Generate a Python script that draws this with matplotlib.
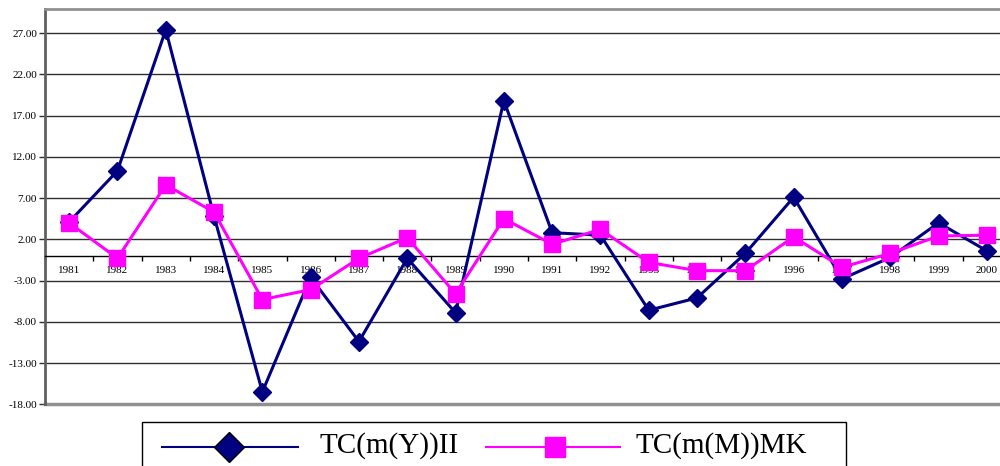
import matplotlib
matplotlib.use("Agg")
import matplotlib.pyplot as plt
from matplotlib.lines import Line2D
from matplotlib.patches import Rectangle
import numpy as np

# Annual values of the two series
years = [str(y) for y in range(1981, 2001)]
tc_y_ii = [4.1, 10.3, 27.4, 4.8, -16.5, -2.6, -10.4, -0.3, -6.9, 18.8,
           2.8, 2.5, -6.6, -5.1, 0.3, 7.1, -2.8, -0.2, 4.0, 0.6]
tc_m_mk = [4.0, -0.3, 8.6, 5.3, -5.3, -4.1, -0.3, 2.2, -4.6, 4.5,
           1.4, 3.2, -0.8, -1.8, -1.8, 2.3, -1.4, 0.3, 2.4, 2.5]
y_ticks = [-18, -13, -8, -3, 2, 7, 12, 17, 22, 27]
series_names = ["TC(m(Y))II", "TC(m(M))MK"]

NAVY = "#000080"
MAGENTA = "#FF00FF"
SERIF = "Liberation Serif"

plt.rcParams["axes.unicode_minus"] = False
plt.rcParams["font.family"] = SERIF

fig = plt.figure(figsize=(10, 4.66), dpi=100)
ax = fig.add_axes([0.045, 0.1324, 0.966, 0.848])

x = np.arange(len(years))
ax.plot(x, tc_y_ii, color=NAVY, lw=2.2, marker="D", ms=8.8,
        mfc=NAVY, mec=NAVY, zorder=3)
ax.plot(x, tc_m_mk, color=MAGENTA, lw=2.2, marker="s", ms=12,
        mfc=MAGENTA, mec=MAGENTA, zorder=4)

ax.set_xlim(-0.5, len(years) - 0.5)
ax.set_ylim(-18, 29.9)

# value axis
ax.set_yticks(y_ticks)
ax.set_yticklabels([f"{v:.2f}" for v in y_ticks])
ax.yaxis.grid(True, color="#303030", lw=1.0, zorder=1)
ax.set_axisbelow(True)
ax.tick_params(axis="y", length=4.3, width=1, color="#303030",
               labelsize=8, pad=1.5)

# category axis crossing at zero
ax.spines["bottom"].set_position(("data", 0))
ax.spines["bottom"].set_color("black")
ax.spines["bottom"].set_linewidth(1.0)
ax.set_xticks(x)
ax.set_xticklabels(years)
ax.set_xticks(np.arange(-0.5, len(years), 1.0), minor=True)
ax.tick_params(axis="x", which="major", length=0, labelsize=8, pad=7.5)
ax.tick_params(axis="x", which="minor", length=3.5, width=1,
               color="black", direction="out")

ax.spines["left"].set_color("#606060")
ax.spines["left"].set_linewidth(2)
ax.spines["top"].set_color("#909090")
ax.spines["top"].set_linewidth(2)
ax.spines["right"].set_visible(False)
ax.axhline(-18, color="#909090", lw=2.5, clip_on=False, zorder=2)

# legend box drawn along the bottom edge
ft = fig.transFigure
fig.add_artist(Rectangle((0.142, -0.05), 0.704, 0.1444, transform=ft,
                         fill=False, edgecolor="black", lw=1.0))
ly = 0.0414
fig.add_artist(Line2D([0.162, 0.298], [ly, ly], transform=ft,
                      color=NAVY, lw=1.5))
fig.add_artist(Line2D([0.229], [ly], transform=ft, marker="D", ms=15,
                      mfc=NAVY, mec="black", mew=1.0, lw=0))
fig.text(0.320, 0.0279, series_names[0], fontsize=21, family=SERIF,
         va="baseline", ha="left")
fig.add_artist(Line2D([0.486, 0.620], [ly, ly], transform=ft,
                      color=MAGENTA, lw=1.5))
fig.add_artist(Line2D([0.555], [ly], transform=ft, marker="s", ms=14,
                      mfc=MAGENTA, mec=MAGENTA, lw=0))
fig.text(0.635, 0.0279, series_names[1], fontsize=21, family=SERIF,
         va="baseline", ha="left")

fig.savefig("out.png", dpi=100)
